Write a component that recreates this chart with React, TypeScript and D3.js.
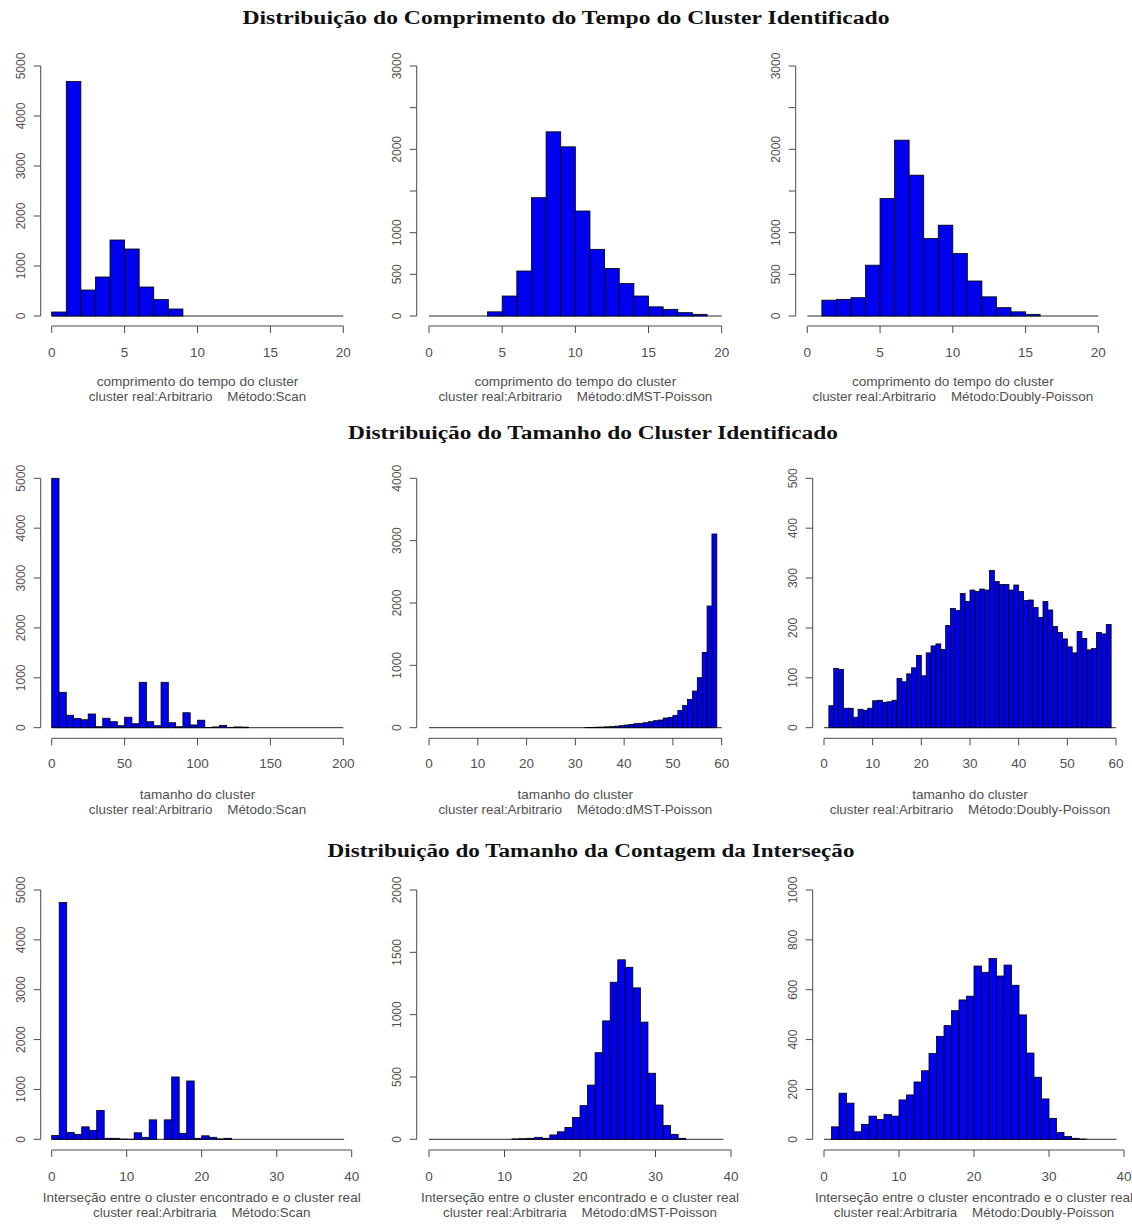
import React from "react";
import * as d3 from "d3";

// ---- histogram counts (one entry per bin, starting at 0) ----
const tempoScan = [80, 4690, 520, 780, 1520, 1340, 580, 330, 140, 0, 0, 0, 0, 0, 0, 0, 0, 0, 0, 0];
const tempoDmst = [0, 0, 0, 0, 50, 240, 540, 1420, 2210, 2030, 1260, 800, 570, 390, 240, 110, 80, 40, 20, 0];
const tempoDoubly = [0, 190, 200, 220, 610, 1410, 2110, 1690, 930, 1090, 750, 420, 230, 100, 50, 20, 0, 0, 0, 0];

const tamanhoScan = [
  5000, 710, 250, 185, 160, 275, 20, 190, 120, 40, 210, 80, 910, 120, 40, 910, 100, 20, 300, 55,
  150, 5, 15, 45, 4, 15, 12, 0, 0, 0, 0, 0, 0, 0, 0, 0, 0, 0, 0, 0,
];
const tamanhoDmst = [
  0, 0, 0, 0, 0, 0, 0, 0, 0, 0, 0, 0, 0, 0, 0, 0, 0, 0, 0, 0,
  0, 0, 0, 0, 0, 0, 0, 0, 0, 0, 0, 0, 4, 5, 8, 10, 14, 18, 25, 32,
  43, 53, 64, 70, 80, 96, 112, 123, 155, 166, 198, 278, 358, 455, 588, 802, 1209, 1952, 3107, 0,
];
const tamanhoDoubly = [
  0, 44, 119, 117, 39, 39, 21, 37, 35, 39, 54, 55, 51, 52, 55, 99, 92, 108, 120, 145,
  104, 150, 164, 168, 157, 205, 239, 235, 269, 253, 276, 273, 278, 276, 315, 293, 287, 287, 276, 286,
  273, 255, 256, 241, 221, 253, 236, 203, 191, 178, 162, 150, 193, 179, 156, 159, 191, 188, 207, 0,
];

const intersScan = [
  75, 4750, 140, 100, 250, 180, 580, 20, 20, 5, 2, 130, 40, 390, 0, 390, 1250, 120, 1170, 20,
  70, 40, 8, 20, 0, 0, 0, 0, 0, 0, 0, 0, 0, 0, 0, 0, 0, 0, 0,
];
const intersDmst = [
  0, 0, 0, 0, 0, 0, 0, 0, 0, 0, 0, 3, 5, 8, 16, 8, 35, 60, 95, 175,
  270, 435, 695, 950, 1260, 1440, 1380, 1215, 940, 530, 275, 110, 40, 8, 0, 0, 0, 0, 0,
];
const intersDoubly = [
  0, 50, 185, 145, 30, 60, 93, 80, 100, 93, 158, 178, 230, 275, 344, 413, 456, 516, 559, 574,
  695, 670, 725, 655, 699, 618, 499, 346, 249, 162, 84, 27, 11, 4, 1, 0, 0, 0, 0,
];

// ---- axis ticks and labels ----
const ticksTempoX = [0, 5, 10, 15, 20];
const ticksTamanhoScanX = [0, 50, 100, 150, 200];
const ticksTamanhoX = [0, 10, 20, 30, 40, 50, 60];
const ticksIntersX = [0, 10, 20, 30, 40];

const ticks5000 = [0, 1000, 2000, 3000, 4000, 5000];
const ticks3000 = [0, 500, 1000, 1500, 2000, 2500, 3000];
const labels3000 = [0, 500, 1000, 2000, 3000];
const ticks4000 = [0, 1000, 2000, 3000, 4000];
const ticks500 = [0, 100, 200, 300, 400, 500];
const ticks2000 = [0, 500, 1000, 1500, 2000];
const ticks1000 = [0, 200, 400, 600, 800, 1000];

const rowTitles = [
  "Distribuição do Comprimento do Tempo do Cluster Identificado",
  "Distribuição do Tamanho do Cluster Identificado",
  "Distribuição do Tamanho da Contagem da Interseção",
];
const xTitleTempo = "comprimento do tempo do cluster";
const xTitleTamanho = "tamanho do cluster";
const xTitleInters = "Interseção entre o cluster encontrado e o cluster real";
const subScanO = "cluster real:Arbitrario    Método:Scan";
const subDmstO = "cluster real:Arbitrario    Método:dMST-Poisson";
const subDoublyO = "cluster real:Arbitrario    Método:Doubly-Poisson";
const subScanA = "cluster real:Arbitraria    Método:Scan";
const subDmstA = "cluster real:Arbitraria    Método:dMST-Poisson";
const subDoublyA = "cluster real:Arbitraria    Método:Doubly-Poisson";

// ---- page layout ----
const W = 1132;
const H = 1229;

type Row = { base: number; top: number; axisY: number; tickLabelY: number; t1: number; t2: number };
const rows: Row[] = [
  { base: 316, top: 66, axisY: 326, tickLabelY: 357, t1: 386, t2: 401 },
  { base: 727.7, top: 478.3, axisY: 738.3, tickLabelY: 768, t1: 799, t2: 814 },
  { base: 1139.3, top: 890, axisY: 1150, tickLabelY: 1181, t1: 1202, t2: 1217 },
];
const titleLayout = [
  { x: 566, y: 24, len: 647 },
  { x: 593, y: 439, len: 490 },
  { x: 591, y: 857, len: 527 },
];

type PanelSpec = {
  row: number;
  counts: number[];
  binWidth: number;
  xMax: number;
  px0: number;
  px1: number;
  yAxisX: number;
  yTicks: number[];
  yLabels?: number[];
  xTicks: number[];
  xTitle: string;
  sub: string;
};

const panels: PanelSpec[] = [
  { row: 0, counts: tempoScan, binWidth: 1, xMax: 20, px0: 51.7, px1: 343.3, yAxisX: 40.7, yTicks: ticks5000, xTicks: ticksTempoX, xTitle: xTitleTempo, sub: subScanO },
  { row: 0, counts: tempoDmst, binWidth: 1, xMax: 20, px0: 429, px1: 721.7, yAxisX: 416.7, yTicks: ticks3000, yLabels: labels3000, xTicks: ticksTempoX, xTitle: xTitleTempo, sub: subDmstO },
  { row: 0, counts: tempoDoubly, binWidth: 1, xMax: 20, px0: 807.3, px1: 1098.3, yAxisX: 795.7, yTicks: ticks3000, yLabels: labels3000, xTicks: ticksTempoX, xTitle: xTitleTempo, sub: subDoublyO },
  { row: 1, counts: tamanhoScan, binWidth: 5, xMax: 200, px0: 51.7, px1: 343.3, yAxisX: 40.7, yTicks: ticks5000, xTicks: ticksTamanhoScanX, xTitle: xTitleTamanho, sub: subScanO },
  { row: 1, counts: tamanhoDmst, binWidth: 1, xMax: 60, px0: 429, px1: 721.7, yAxisX: 416.7, yTicks: ticks4000, xTicks: ticksTamanhoX, xTitle: xTitleTamanho, sub: subDmstO },
  { row: 1, counts: tamanhoDoubly, binWidth: 1, xMax: 60, px0: 824, px1: 1116, yAxisX: 812.7, yTicks: ticks500, xTicks: ticksTamanhoX, xTitle: xTitleTamanho, sub: subDoublyO },
  { row: 2, counts: intersScan, binWidth: 1, xMax: 40, px0: 51.7, px1: 351.7, yAxisX: 40.7, yTicks: ticks5000, xTicks: ticksIntersX, xTitle: xTitleInters, sub: subScanA },
  { row: 2, counts: intersDmst, binWidth: 1, xMax: 40, px0: 429, px1: 731, yAxisX: 416.7, yTicks: ticks2000, xTicks: ticksIntersX, xTitle: xTitleInters, sub: subDmstA },
  { row: 2, counts: intersDoubly, binWidth: 1, xMax: 40, px0: 824, px1: 1124, yAxisX: 812.7, yTicks: ticks1000, xTicks: ticksIntersX, xTitle: xTitleInters, sub: subDoublyA },
];

const AXIS = "#4a4a4a";
const LABEL = "#505050";
const SANS = "'Liberation Sans', Arial, sans-serif";
const SERIF = "'Liberation Serif', 'DejaVu Serif', serif";
const TICK = 7;

function Histogram({ p }: { p: PanelSpec }) {
  const r = rows[p.row];
  const x = d3.scaleLinear().domain([0, p.xMax]).range([p.px0, p.px1]);
  const yMax = p.yTicks[p.yTicks.length - 1];
  const y = d3.scaleLinear().domain([0, yMax]).range([r.base, r.top]);
  const bins = p.counts.map((c, i) => ({ x0: i * p.binWidth, x1: (i + 1) * p.binWidth, c }));
  const lastBreak = p.counts.length * p.binWidth;
  const labels = p.yLabels ?? p.yTicks;
  const cx = (p.px0 + p.px1) / 2;
  return (
    <g>
      {/* zero-count baseline across the break range */}
      <line x1={x(0)} x2={x(lastBreak)} y1={y(0)} y2={y(0)} stroke="#2a2a2a" strokeWidth={1} />
      {bins
        .filter((b) => b.c > 0)
        .map((b, i) => (
          <rect
            key={i}
            x={x(b.x0)}
            y={y(b.c)}
            width={x(b.x1) - x(b.x0)}
            height={y(0) - y(b.c)}
            fill="#0000f0"
            stroke="#000"
            strokeWidth={0.8}
          />
        ))}
      {/* y axis */}
      <line x1={p.yAxisX} x2={p.yAxisX} y1={y(0)} y2={y(yMax)} stroke={AXIS} strokeWidth={1} />
      {p.yTicks.map((t) => (
        <line key={t} x1={p.yAxisX - TICK} x2={p.yAxisX} y1={y(t)} y2={y(t)} stroke={AXIS} strokeWidth={1} />
      ))}
      {labels.map((t) => (
        <text
          key={t}
          transform={`translate(${p.yAxisX - 20},${y(t)}) rotate(-90)`}
          textAnchor="middle"
          dominantBaseline="central"
          fontFamily={SANS}
          fontSize={12}
          fill={LABEL}
        >
          {t}
        </text>
      ))}
      {/* x axis */}
      <line x1={x(0)} x2={x(p.xMax)} y1={r.axisY} y2={r.axisY} stroke={AXIS} strokeWidth={1} />
      {p.xTicks.map((t) => (
        <line key={t} x1={x(t)} x2={x(t)} y1={r.axisY} y2={r.axisY + TICK} stroke={AXIS} strokeWidth={1} />
      ))}
      {p.xTicks.map((t) => (
        <text key={t} x={x(t)} y={r.tickLabelY} textAnchor="middle" fontFamily={SANS} fontSize={13.5} fill={LABEL}>
          {t}
        </text>
      ))}
      <text x={cx} y={r.t1} textAnchor="middle" fontFamily={SANS} fontSize={13.6} fill={LABEL}>
        {p.xTitle}
      </text>
      <text x={cx} y={r.t2} textAnchor="middle" fontFamily={SANS} fontSize={13.4} fill={LABEL} style={{ whiteSpace: "pre" }}>
        {p.sub}
      </text>
    </g>
  );
}

export default function App() {
  return (
    <svg
      width={W}
      height={H}
      viewBox={`0 0 ${W} ${H}`}
      style={{ position: "absolute", left: 0, top: 0, background: "#fff" }}
    >
      <rect x={0} y={0} width={W} height={H} fill="#fff" />
      {rowTitles.map((t, i) => (
        <text
          key={i}
          x={titleLayout[i].x}
          y={titleLayout[i].y}
          textAnchor="middle"
          fontFamily={SERIF}
          fontWeight="bold"
          fontSize={18}
          textLength={titleLayout[i].len}
          lengthAdjust="spacingAndGlyphs"
          fill="#111"
        >
          {t}
        </text>
      ))}
      {panels.map((p, i) => (
        <Histogram key={i} p={p} />
      ))}
    </svg>
  );
}
